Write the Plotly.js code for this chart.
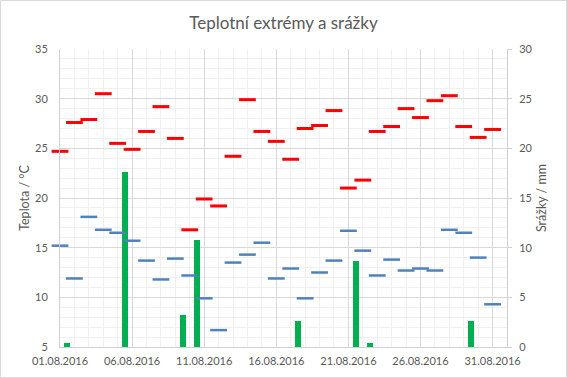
<!DOCTYPE html>
<html>
<head>
<meta charset="utf-8">
<script src="https://cdn.plot.ly/plotly-3.0.1.min.js"></script>
<style>html,body{margin:0;padding:0;background:#fff;}#chart{width:567px;height:378px;}</style>
</head>
<body>
<div id="chart"></div>
<script>
const dates = ['2016-08-01','2016-08-02','2016-08-03','2016-08-04','2016-08-05','2016-08-06','2016-08-07','2016-08-08','2016-08-09','2016-08-10','2016-08-11','2016-08-12','2016-08-13','2016-08-14','2016-08-15','2016-08-16','2016-08-17','2016-08-18','2016-08-19','2016-08-20','2016-08-21','2016-08-22','2016-08-23','2016-08-24','2016-08-25','2016-08-26','2016-08-27','2016-08-28','2016-08-29','2016-08-30','2016-08-31'];
const tMax = [24.7, 27.6, 27.9, 30.5, 25.5, 24.9, 26.7, 29.2, 26.0, 16.8, 19.9, 19.2, 24.2, 29.9, 26.7, 25.7, 23.9, 27.0, 27.3, 28.8, 21.0, 21.8, 26.7, 27.2, 29.0, 28.1, 29.8, 30.3, 27.2, 26.1, 26.9];
const tMin = [15.2, 11.9, 18.1, 16.8, 16.5, 15.7, 13.7, 11.8, 13.9, 12.2, 9.9, 6.7, 13.5, 14.3, 15.5, 11.9, 12.9, 9.9, 12.5, 13.7, 16.7, 14.7, 12.2, 13.8, 12.7, 12.9, 12.7, 16.8, 16.5, 14.0, 9.3];
const precip = [0.4, 0, 0, 0, 17.6, 0, 0, 0, 3.2, 10.8, 0, 0, 0, 0, 0, 0, 2.6, 0, 0, 0, 8.7, 0.4, 0, 0, 0, 0, 0, 0, 2.6, 0, 0];
const tickVals = ['2016-08-01','2016-08-06','2016-08-11','2016-08-16','2016-08-21','2016-08-26','2016-08-31'];
const tickLabels = ['01.08.2016','06.08.2016','11.08.2016','16.08.2016','21.08.2016','26.08.2016','31.08.2016'];

const FONT = 'Lato, "Noto Sans", sans-serif';
const TXT = '#595959';
const DAY = 86400000;

const traces = [
  {
    type: 'bar', x: dates, y: precip, yaxis: 'y',
    xperiod: DAY, xperiodalignment: 'middle',
    width: 0.42 * DAY,
    marker: {color: '#00b050'}, name: 'Srážky', hoverinfo: 'x+y'
  },
  {
    type: 'scatter', mode: 'markers', x: dates, y: tMax, yaxis: 'y2', name: 'Max', cliponaxis: false,
    marker: {symbol: 'line-ew', size: 12, line: {color: '#ff0000', width: 3}}
  },
  {
    type: 'scatter', mode: 'markers', x: dates, y: tMin, yaxis: 'y2', name: 'Min', cliponaxis: false,
    marker: {symbol: 'line-ew', size: 12, line: {color: '#4f81bd', width: 2.5}}
  }
];

const layout = {
  width: 567, height: 378,
  margin: {l: 60, r: 60, t: 49, b: 31, pad: 0},
  paper_bgcolor: '#ffffff', plot_bgcolor: '#ffffff',
  showlegend: false,
  font: {family: FONT, size: 11, color: TXT},
  title: {text: 'Teplotní extrémy a srážky', x: 0.5, xanchor: 'center', y: 0.94, yanchor: 'middle',
          font: {family: FONT, size: 17, color: TXT}},
  bargap: 0,
  xaxis: {
    type: 'date', range: ['2016-08-01', '2016-09-01'],
    tickmode: 'array', tickvals: tickVals, ticktext: tickLabels,
    showgrid: true, gridcolor: '#d9d9d9', gridwidth: 1,
    minor: {dtick: DAY, tick0: '2016-08-01', showgrid: true, gridcolor: '#f0f0f0', gridwidth: 1},
    showline: true, linecolor: '#d0d0d0', linewidth: 1,
    ticks: '', zeroline: false, fixedrange: true,
    tickfont: {family: FONT, size: 11, color: TXT}, ticklabelstandoff: 4
  },
  yaxis: {
    range: [0, 30], dtick: 5, side: 'right',
    showgrid: true, gridcolor: '#d9d9d9', gridwidth: 1,
    minor: {dtick: 1, showgrid: true, gridcolor: '#f0f0f0', gridwidth: 1},
    showline: true, linecolor: '#d0d0d0', linewidth: 1,
    ticks: 'outside', ticklen: 4, tickcolor: '#d0d0d0',
    zeroline: false, fixedrange: true,
    tickfont: {family: FONT, size: 11, color: TXT}, ticklabelstandoff: 5,
    title: {text: 'Srážky / mm', font: {family: FONT, size: 12.5, color: TXT}, standoff: 5}
  },
  yaxis2: {
    range: [5, 35], dtick: 5, side: 'left', overlaying: 'y',
    showgrid: false, zeroline: false,
    showline: true, linecolor: '#d0d0d0', linewidth: 1,
    ticks: '', fixedrange: true,
    tickfont: {family: FONT, size: 11, color: TXT}, ticklabelstandoff: 9,
    title: {text: 'Teplota / °C', font: {family: FONT, size: 12.5, color: TXT}, standoff: 2}
  },
  shapes: [{
    type: 'rect', xref: 'paper', yref: 'paper',
    x0: -59.5/447, x1: 506.5/447, y0: -30.5/298, y1: 346.5/298,
    line: {color: '#d9d9d9', width: 1}, fillcolor: 'rgba(0,0,0,0)', layer: 'below'
  }]
};

Plotly.newPlot('chart', traces, layout, {staticPlot: true, displayModeBar: false});
</script>
</body>
</html>
